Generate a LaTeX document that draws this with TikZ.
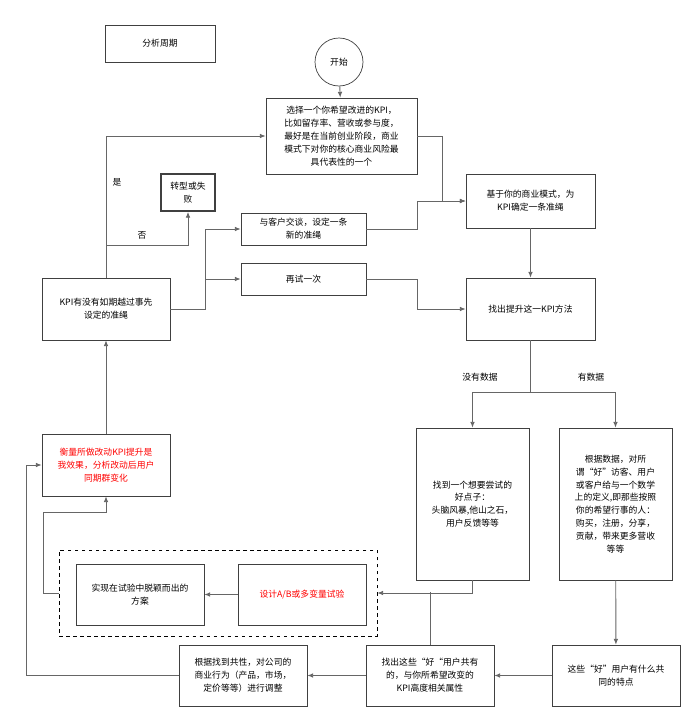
\documentclass[tikz,border=0pt]{standalone}
\usepackage{fontspec}
\setmainfont{Noto Sans CJK SC}
\usetikzlibrary{arrows.meta}
\tikzset{
	box/.style={draw=black!75,line width=.6pt,align=center,inner sep=1pt,font=\fontsize{7.5}{11}\selectfont},
	line/.style={draw=black!60,line width=.8pt},
	arr/.style={line,-{Latex[length=5pt,width=4pt]}},
	lbl/.style={font=\fontsize{7.5}{9}\selectfont}
}
\begin{document}
\begin{tikzpicture}[x=0.03cm,y=-0.03cm]
	\useasboundingbox (0,0) rectangle (690,723);
	\node[box,minimum width=110*0.03cm,minimum height=37*0.03cm] (cycle) at (160,43.5) {分析周期};
	\node[box,circle,minimum size=48*0.03cm] (start) at (339,62) {开始};
	\node[box,minimum width=151*0.03cm,minimum height=76*0.03cm] (pick) at (341.5,136) {选择一个你希望改进的KPI，\\比如留存率、营收或参与度，\\最好是在当前创业阶段，商业\\模式下对你的核心商业风险最\\具代表性的一个};
	\node[box,line width=1.5pt,minimum width=54*0.03cm,minimum height=37*0.03cm] (fail) at (188,192.5) {转型或失\\败};
	\node[box,minimum width=129*0.03cm,minimum height=54*0.03cm] (line) at (530.5,201) {基于你的商业模式，为\\KPI确定一条准绳};
	\node[box,minimum width=125*0.03cm,minimum height=32*0.03cm] (talk) at (303.5,229) {与客户交谈，设定一条\\新的准绳};
	\node[box,minimum width=125*0.03cm,minimum height=32*0.03cm] (retry) at (303.5,279) {再试一次};
	\node[box,minimum width=128*0.03cm,minimum height=62*0.03cm] (check) at (106,309) {KPI有没有如期越过事先\\设定的准绳};
	\node[box,minimum width=129*0.03cm,minimum height=62*0.03cm] (find) at (530.5,309) {找出提升这一KPI方法};
	\node[box,minimum width=113*0.03cm,minimum height=152*0.03cm] (idea) at (472.5,504) {找到一个想要尝试的\\好点子：\\头脑风暴,他山之石，\\用户反馈等等};
	\node[box,minimum width=113*0.03cm,minimum height=152*0.03cm] (data) at (615.5,504) {根据数据，对所\\谓“好”访客、用户\\或客户给与一个数学\\上的定义,即那些按照\\你的希望行事的人：\\购买，注册，分享，\\贡献，带来更多营收\\等等};
	\node[box,text=red,minimum width=128*0.03cm,minimum height=62*0.03cm] (measure) at (106,465) {衡量所做改动KPI提升是\\我效果，分析改动后用户\\同期群变化};
	\node[draw=black,dashed,line width=.6pt,minimum width=318*0.03cm,minimum height=86*0.03cm] (test) at (218,593) {};
	\node[box,minimum width=128*0.03cm,minimum height=61*0.03cm] (winner) at (140,594.5) {实现在试验中脱颖而出的\\方案};
	\node[box,text=red,minimum width=128*0.03cm,minimum height=61*0.03cm] (ab) at (302,594.5) {设计A/B或多变量试验};
	\node[box,minimum width=128*0.03cm,minimum height=61*0.03cm] (adjust) at (243,675.5) {根据找到共性，对公司的\\商业行为（产品，市场，\\定价等等）进行调整};
	\node[box,minimum width=128*0.03cm,minimum height=61*0.03cm] (attr) at (430,675.5) {找出这些“好“用户共有\\的，与你所希望改变的\\KPI高度相关属性};
	\node[box,minimum width=128*0.03cm,minimum height=61*0.03cm] (common) at (616,675.5) {这些“好”用户有什么共\\同的特点};
	% labels
	\node[lbl] (yes) at (117,182) {是};
	\node[lbl] (no) at (142,235) {否};
	\node[lbl] (nodata) at (480,377) {没有数据};
	\node[lbl] (hasdata) at (591,377) {有数据};
	\coordinate (split) at (530.5,392);
	% connectors
	\draw[arr] (start) -- (pick);
	\draw[arr] (pick.east) -| (442,201) -- (line.west);
	\draw[arr] (talk.east) -- (417,229) |- (line.west);
	\draw[arr] (line) -- (find);
	\draw[arr] (retry.east) -- (417,279) |- (find.west);
	\draw[arr] (check.east) -- (205,309) |- (talk.west);
	\draw[arr] (205,279) -- (retry.west);
	\draw[arr] (check.north) |- (pick.west);
	\draw[arr] (106,245) -| (fail.south);
	\draw[line] (find.south) -- (split);
	\draw[arr] (split) -| (idea.north);
	\draw[arr] (split) -| (data.north);
	\draw[arr] (idea.south) |- (test.east);
	\draw[line] (attr.north) -- (430,592);
	\draw[arr] (ab) -- (winner);
	\draw[arr] (test.west) -- (43,593) |- (106,512) -- (measure.south);
	\draw[arr] (measure) -- (check);
	\draw[arr] (data) -- (common);
	\draw[arr] (common) -- (attr);
	\draw[arr] (attr) -- (adjust);
	\draw[arr] (adjust.west) -| (26,465) -- (measure.west);
\end{tikzpicture}
\end{document}
